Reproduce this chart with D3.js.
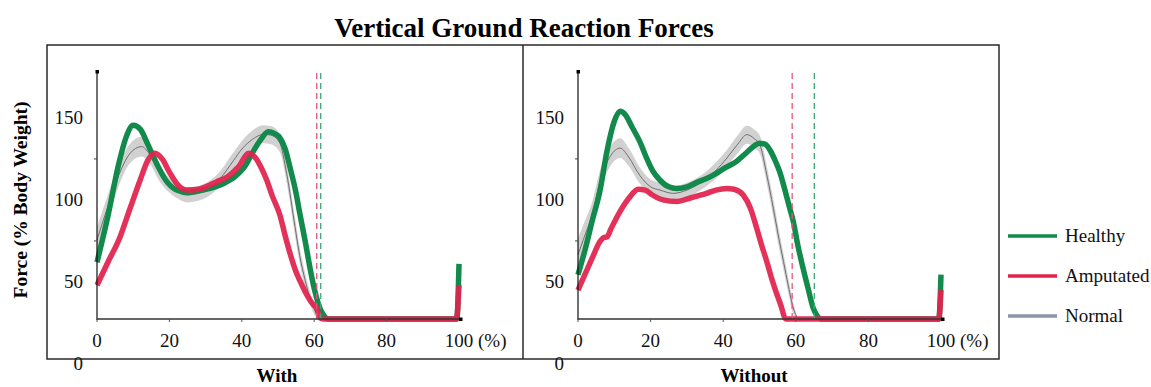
<!DOCTYPE html>
<html>
<head>
<meta charset="utf-8">
<script src="https://cdn.jsdelivr.net/npm/d3@7"></script>
<style>
  html, body { margin: 0; padding: 0; background: #fff; }
  svg { display: block; }
  svg text { font-family: "Liberation Serif", "DejaVu Serif", serif; }
</style>
</head>
<body>
<svg id="chart" width="1151" height="387"></svg>
<script>
// Data (x = % of gait cycle, y = % body weight)
const X_TICKS = [0, 20, 40, 60, 80, 100];
const Y_LABELS = [0, 50, 100, 150];
const Y_MINOR = [75, 125];
const LEGEND = ["Healthy", "Amputated", "Normal"];

const withHealthy = [[0,62],[3,90],[6,122],[8,138],[10,145.5],[12,143],[14,134],[16.5,122],[19,112],[22,106],[25,104.5],[28,105.5],[32,107.5],[35,110],[38,114],[41,121],[43,129],[45,136],[47.3,141.5],[49,140.5],[50.5,138],[52,131],[53.3,120],[55,104],[56,92],[57.5,75],[58.8,59],[60,46],[61.1,37],[62.5,30],[64,0],[98.6,0],[99.4,10],[100,61]];
const withAmputated = [[0,48],[3,62],[6.4,77.6],[9,94],[11.9,112],[14,124],[16,128.5],[18,125],[20,117],[22,110],[24.8,106],[28,106.5],[31,109],[33,111],[36,114],[39,120],[42,128.5],[44,125],[45.5,119],[46.9,112],[48.5,102],[50.5,91],[52,78],[53.3,67.6],[55,56],[56,51],[57.5,44],[58.8,39],[60,35.5],[60.7,34],[61.6,28],[62.5,0],[98.4,0],[99.3,10],[100,48]];
// [x, mean, spread]
const withNormal = [[0,75.6,8],[3,96,7],[6,115,6.5],[9,128,6],[12.3,132.5,6],[14.5,128,5.5],[17.4,116,5],[20,109,4.5],[22.5,105,4.5],[24.8,103,4.5],[28,104,4.5],[31,107,4.5],[34,113,4.5],[37.7,124,5],[40,131,5],[43,137,5.5],[46,140,5.5],[48,139.5,5.5],[50.5,134.7,5.5],[52.4,116,5.5],[54.7,83.7,5.5],[56,66,5],[57.5,51,4.5],[58.6,42,4],[59.7,35,3.5],[61,29,2],[61.5,0,0]];

const withoutHealthy = [[0,54.4],[2,70],[4,88],[6,105],[8,130],[10,148],[11.6,154],[13,152],[15,144],[17,135.7],[19,125],[20.5,118],[22.6,112],[25,108],[27.2,107],[30,108],[32.5,110.5],[35.4,113],[38,116],[40.5,119.5],[43.7,123.5],[46,128],[48,132],[50,134.5],[51.5,134],[53,130],[54.5,123],[55.6,117],[57,106],[58.2,96],[59.3,87],[60.5,73],[62,58.4],[63.5,45],[64.8,34],[66,29],[67,0],[98.6,0],[99.4,10],[100,54.5]];
const withoutAmputated = [[0,45],[2,55],[4,65],[6,74.5],[7,77],[8,77.5],[9,82],[11.6,93],[14,101],[16.6,106.5],[18.5,106],[20.5,103],[23.4,100],[27.2,99],[30,100.5],[33,102.5],[35.4,104],[38,106],[41,107],[43,106.5],[45.5,103],[47.5,95],[49.2,83],[50.5,73],[52,62.5],[53.5,51],[54.7,43],[56,35],[57,28],[57.5,0],[98.6,0],[99.4,10],[100,45]];
const withoutNormal = [[0,66.6,10],[1.5,76,9],[4,92,7.5],[6,111,6.5],[9,127,6],[11.6,131.6,6],[14,126,5.5],[17,115,5],[20,108,4.5],[22.6,106,4.5],[26.3,104,4.5],[30,106,4.5],[35.4,113,4.5],[38,118,5],[41,125.5,5],[44,134,5.5],[46.5,139.8,5.5],[48.5,137.5,5.5],[50.1,133.6,5.5],[52,115.4,5.5],[53.8,95,5.5],[55.2,78,5.5],[56.6,62.5,5],[58,47,4.5],[59.3,34,3.5],[60,30,2],[60.5,0,0]];

// toe-off markers: [amputated, healthy]
const withToeOff = [60.7, 61.8];
const withoutToeOff = [59, 65.1];

// Style
const COLORS = { healthy: "#128a4c", amputated: "#e2214c", normal: "#8a97a7" };
const FONT = 19;

const svg = d3.select("#chart");

// title
svg.append("text")
  .attr("x", 524).attr("y", 37)
  .attr("text-anchor", "middle")
  .attr("font-size", 27).attr("font-weight", "bold")
  .text("Vertical Ground Reaction Forces");

// frame
svg.append("rect")
  .attr("x", 47).attr("y", 45).attr("width", 952).attr("height", 314)
  .attr("fill", "none").attr("stroke", "#2a2a2a").attr("stroke-width", 1.5);
svg.append("line")
  .attr("x1", 523).attr("x2", 523).attr("y1", 45).attr("y2", 359)
  .attr("stroke", "#2a2a2a").attr("stroke-width", 1.5);

// y label
svg.append("text")
  .attr("transform", "translate(27,200) rotate(-90)")
  .attr("text-anchor", "middle")
  .attr("font-size", 19.5).attr("font-weight", "bold")
  .text("Force (% Body Weight)");

const panels = [
  { name: "With", x0: 97, x1: 459, healthy: withHealthy, amputated: withAmputated, normal: withNormal, toe: withToeOff, titleX: 277 },
  { name: "Without", x0: 578, x1: 941, healthy: withoutHealthy, amputated: withoutAmputated, normal: withoutNormal, toe: withoutToeOff, titleX: 754 },
];

const AXIS_Y = 319, TOP_Y = 72;

function drawPanel(p) {
  const g = svg.append("g");
  const x = d3.scaleLinear().domain([0, 100]).range([p.x0, p.x1]);
  const y = d3.scaleLinear().domain([27.4, 178]).range([AXIS_Y, TOP_Y]).clamp(true);
  const yFree = y.copy().clamp(false);

  // normal band + mean
  const band = d3.area()
    .x(d => x(d[0]))
    .y0(d => y(d[1] - d[2]))
    .y1(d => y(d[1] + d[2]))
    .curve(d3.curveMonotoneX);
  g.append("path").datum(p.normal)
    .attr("d", band).attr("fill", "#c6c6c6").attr("opacity", 0.8);

  const line = d3.line().x(d => x(d[0])).y(d => y(d[1])).curve(d3.curveMonotoneX);
  g.append("path").datum(p.normal)
    .attr("d", line).attr("fill", "none").attr("stroke", "#6f6f6f").attr("stroke-width", 1);

  g.append("path").datum(p.healthy)
    .attr("d", line).attr("fill", "none")
    .attr("stroke", COLORS.healthy).attr("stroke-width", 5.5);
  g.append("path").datum(p.amputated)
    .attr("d", line).attr("fill", "none")
    .attr("stroke", COLORS.amputated).attr("stroke-width", 5.5).attr("opacity", 0.93);

  // toe-off dashed lines
  g.selectAll(".toe").data([[p.toe[0], "#e8557a"], [p.toe[1], "#3aa877"]])
    .join("line")
    .attr("x1", d => x(d[0])).attr("x2", d => x(d[0]))
    .attr("y1", TOP_Y + 1).attr("y2", AXIS_Y)
    .attr("stroke", d => d[1]).attr("stroke-width", 1.3)
    .attr("stroke-dasharray", "6,4");

  // axes
  g.append("line")
    .attr("x1", p.x0).attr("x2", p.x0).attr("y1", AXIS_Y + 1).attr("y2", TOP_Y)
    .attr("stroke", "#111").attr("stroke-width", 1.2);
  g.append("line")
    .attr("x1", p.x0).attr("x2", x(100) + 2).attr("y1", AXIS_Y).attr("y2", AXIS_Y)
    .attr("stroke", "#333").attr("stroke-width", 1.5);
  g.append("rect").attr("x", p.x0 - 1.5).attr("y", TOP_Y - 2).attr("width", 3.5).attr("height", 3.5).attr("fill", "#000");
  g.append("rect").attr("x", x(100)).attr("y", AXIS_Y - 1.5).attr("width", 3.5).attr("height", 3.5).attr("fill", "#000");

  g.selectAll(".ymin").data(Y_MINOR).join("line")
    .attr("x1", p.x0 - 3).attr("x2", p.x0)
    .attr("y1", d => y(d)).attr("y2", d => y(d))
    .attr("stroke", "#444").attr("stroke-width", 1);

  g.selectAll(".ylab").data(Y_LABELS).join("text")
    .attr("x", p.x0 - 14)
    .attr("y", d => yFree(d) + 6)
    .attr("text-anchor", "end")
    .attr("font-size", FONT).attr("fill", "#111")
    .text(d => d);

  g.selectAll(".xtick").data(X_TICKS.slice(0, -1)).join("line")
    .attr("x1", d => x(d)).attr("x2", d => x(d))
    .attr("y1", AXIS_Y).attr("y2", AXIS_Y + 3)
    .attr("stroke", "#555").attr("stroke-width", 1);

  g.selectAll(".xlab").data(X_TICKS).join("text")
    .attr("x", d => x(d))
    .attr("y", 347)
    .attr("text-anchor", "middle")
    .attr("font-size", FONT).attr("fill", "#111")
    .text(d => d);
  g.append("text")
    .attr("x", x(100) + 19).attr("y", 347)
    .attr("font-size", FONT).attr("fill", "#111")
    .text("(%)");

  g.append("text")
    .attr("x", p.titleX).attr("y", 382)
    .attr("text-anchor", "middle")
    .attr("font-size", 19).attr("font-weight", "bold")
    .text(p.name);
}

panels.forEach(drawPanel);

// legend
const legColors = [COLORS.healthy, COLORS.amputated, COLORS.normal];
const leg = svg.append("g").selectAll("g").data(LEGEND).join("g")
  .attr("transform", (d, i) => `translate(1008,${236 + i * 40})`);
leg.append("line")
  .attr("x1", 0).attr("x2", 49).attr("y1", 0).attr("y2", 0)
  .attr("stroke", (d, i) => legColors[i]).attr("stroke-width", 3.5);
leg.append("text")
  .attr("x", 57).attr("y", 6)
  .attr("font-size", FONT).attr("fill", "#111")
  .text(d => d);
</script>
</body>
</html>
